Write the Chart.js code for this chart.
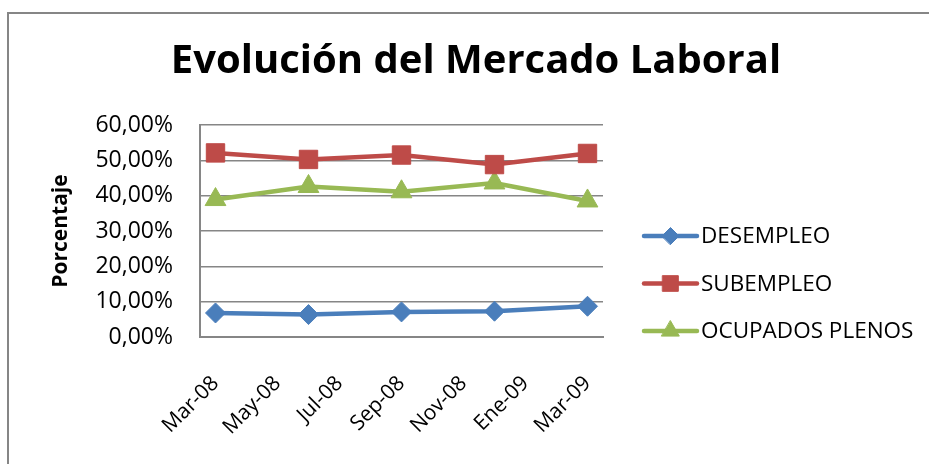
<!DOCTYPE html>
<html lang="es">
<head>
    <meta charset="UTF-8">
    <title>Evolución del Mercado Laboral</title>
    <script src="https://cdn.jsdelivr.net/npm/chart.js"></script>
    <style>
        body {
            margin: 0;
            padding: 0;
            background: white;
        }
        #frame {
            position: absolute;
            left: 7px;
            top: 12px;
            width: 922px;
            height: 452px;
            border-left: 2px solid #868686;
            border-top: 2px solid #868686;
        }
        #wrap {
            position: absolute;
            left: 0;
            top: 0;
            width: 929px;
            height: 464px;
        }
    </style>
</head>
<body>

<div id="frame"></div>
<div id="wrap"><canvas id="laborChart"></canvas></div>

<script>
    // months counted from Mar-08
    const monthIndex = [0, 3, 6, 9, 12];
    const tickMonths = [0, 2, 4, 6, 8, 10, 12];
    const tickLabels = ['Mar-08', 'May-08', 'Jul-08', 'Sep-08', 'Nov-08', 'Ene-09', 'Mar-09'];

    const seriesNames = ['DESEMPLEO', 'SUBEMPLEO', 'OCUPADOS PLENOS'];
    const desempleo = [6.8, 6.35, 7.1, 7.3, 8.7];
    const subempleo = [52.1, 50.25, 51.5, 48.8, 51.95];
    const ocupados = [38.9, 42.6, 41.1, 43.6, 38.5];

    const chartTitle = 'Evolución del Mercado Laboral';
    const FONT = "'Open Sans', sans-serif";

    function toPoints(values) {
        return values.map((v, i) => ({ x: monthIndex[i], y: v }));
    }

    function makeSeries(label, values, color, style, radius) {
        return {
            label: label,
            data: toPoints(values),
            borderColor: color,
            backgroundColor: color,
            pointBackgroundColor: color,
            pointBorderColor: color,
            pointBorderWidth: 1,
            pointStyle: style,
            pointRadius: radius,
            borderWidth: 4.5,
            tension: 0
        };
    }

    // title centred on the whole frame + legend drawn as line + marker
    const frameText = {
        id: 'frameText',
        afterDraw(chart) {
            const ctx = chart.ctx;
            ctx.save();
            ctx.fillStyle = '#000';
            ctx.font = 'bold 40px ' + FONT;
            ctx.textAlign = 'center';
            ctx.textBaseline = 'middle';
            ctx.fillText(chartTitle, 476, 62);
            ctx.restore();

            const x0 = 644, x1 = 697, top = 236, gap = 47.5;
            chart.data.datasets.forEach((ds, i) => {
                const y = top + i * gap;
                ctx.save();
                ctx.strokeStyle = ds.borderColor;
                ctx.lineWidth = 4.5;
                ctx.lineCap = 'round';
                ctx.beginPath();
                ctx.moveTo(x0, y);
                ctx.lineTo(x1, y);
                ctx.stroke();
                ctx.fillStyle = ds.pointBackgroundColor;
                ctx.lineWidth = 1;
                Chart.helpers.drawPoint(ctx, {
                    pointStyle: ds.pointStyle,
                    radius: ds.pointRadius * 0.85,
                    borderWidth: 1,
                    rotation: 0
                }, (x0 + x1) / 2, y);
                ctx.fillStyle = '#000';
                ctx.font = '22.5px ' + FONT;
                ctx.textBaseline = 'middle';
                ctx.textAlign = 'left';
                ctx.fillText(ds.label, 701, y + 1);
                ctx.restore();
            });
        }
    };

    const ctx = document.getElementById('laborChart').getContext('2d');

    const myChart = new Chart(ctx, {
        type: 'line',
        data: {
            datasets: [
                makeSeries(seriesNames[0], desempleo, '#4A7EBB', 'rectRot', 10),
                makeSeries(seriesNames[1], subempleo, '#BE4B48', 'rect', 13),
                makeSeries(seriesNames[2], ocupados, '#98B954', 'triangle', 12)
            ]
        },
        options: {
            responsive: true,
            maintainAspectRatio: false,
            animation: false,
            layout: {
                padding: { left: 0, right: 326, top: 125, bottom: 0 }
            },
            scales: {
                x: {
                    type: 'linear',
                    min: -0.5,
                    max: 12.5,
                    afterBuildTicks: scale => {
                        scale.ticks = tickMonths.map(v => ({ value: v }));
                    },
                    afterFit: scale => { scale.height = 127; },
                    grid: { display: false, drawTicks: false },
                    border: { display: true, color: '#868686', width: 2 },
                    ticks: {
                        minRotation: 45,
                        maxRotation: 45,
                        padding: 34,
                        color: '#000',
                        font: { family: FONT, size: 21 },
                        callback: value => tickLabels[tickMonths.indexOf(value)]
                    }
                },
                y: {
                    min: 0,
                    max: 60,
                    afterFit: scale => { scale.width = 200; },
                    grid: { color: '#868686', lineWidth: 1.5, drawTicks: false },
                    border: { display: true, color: '#868686', width: 2 },
                    ticks: {
                        stepSize: 10,
                        padding: 27,
                        color: '#000',
                        font: { family: FONT, size: 23 },
                        callback: value => value.toFixed(2).replace('.', ',') + '%'
                    },
                    title: {
                        display: true,
                        text: 'Porcentaje',
                        color: '#000',
                        font: { family: FONT, size: 21, weight: 'bold' },
                        padding: { top: 48, bottom: 0 }
                    }
                }
            },
            plugins: {
                legend: { display: false },
                tooltip: { enabled: false },
                title: { display: false }
            }
        },
        plugins: [frameText]
    });
</script>

</body>
</html>
